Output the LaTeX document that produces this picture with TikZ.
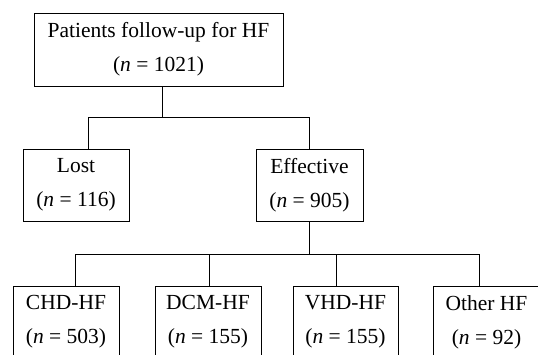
\documentclass[tikz,border=0pt]{standalone}
\usepackage{fontspec}
\setmainfont{Liberation Serif}
\begin{document}
\begin{tikzpicture}[x=1pt,y=-1pt,
  box/.style={draw,line width=0.8pt,inner sep=0pt,align=center,
    font=\fontsize{21.5}{34}\selectfont},
  conn/.style={line width=0.8pt}]
\useasboundingbox (0,0) rectangle (538,354);
\clip (0,0) rectangle (538,354);
\node[box,minimum width=249pt,minimum height=73pt] (top) at (158.5,49.5)
  {Patients follow-up for HF\\(\textit{n} = 1021)};
\node[box,minimum width=106pt,minimum height=72pt] (lost) at (76,185)
  {Lost\\(\textit{n} = 116)};
\node[box,minimum width=107pt,minimum height=72pt] (eff) at (309.5,185)
  {Effective\\(\textit{n} = 905)};
\node[box,minimum width=106pt,minimum height=72pt] (chd) at (66,322)
  {CHD-HF\\(\textit{n} = 503)};
\node[box,minimum width=106pt,minimum height=72pt] (dcm) at (208,322)
  {DCM-HF\\(\textit{n} = 155)};
\node[box,minimum width=105pt,minimum height=72pt] (vhd) at (345.5,322)
  {VHD-HF\\(\textit{n} = 155)};
\node[box,minimum width=107pt,minimum height=72pt] (oth) at (486.5,322)
  {Other HF\\(\textit{n} = 92)};
\coordinate (j1) at (162,117);
\coordinate (l1) at (88,117);
\coordinate (e1) at (309,117);
\coordinate (j2) at (309,254);
\coordinate (c2) at (75,254);
\coordinate (d2) at (209,254);
\coordinate (v2) at (336,254);
\coordinate (o2) at (479,254);
\draw[conn] (top.south -| j1) -- (j1);
\draw[conn] (lost.north -| l1) -- (l1) -- (e1) -- (eff.north -| e1);
\draw[conn] (eff.south -| j2) -- (j2);
\draw[conn] (chd.north -| c2) -- (c2) -- (o2) -- (oth.north -| o2);
\draw[conn] (dcm.north -| d2) -- (d2);
\draw[conn] (vhd.north -| v2) -- (v2);
\end{tikzpicture}
\end{document}
